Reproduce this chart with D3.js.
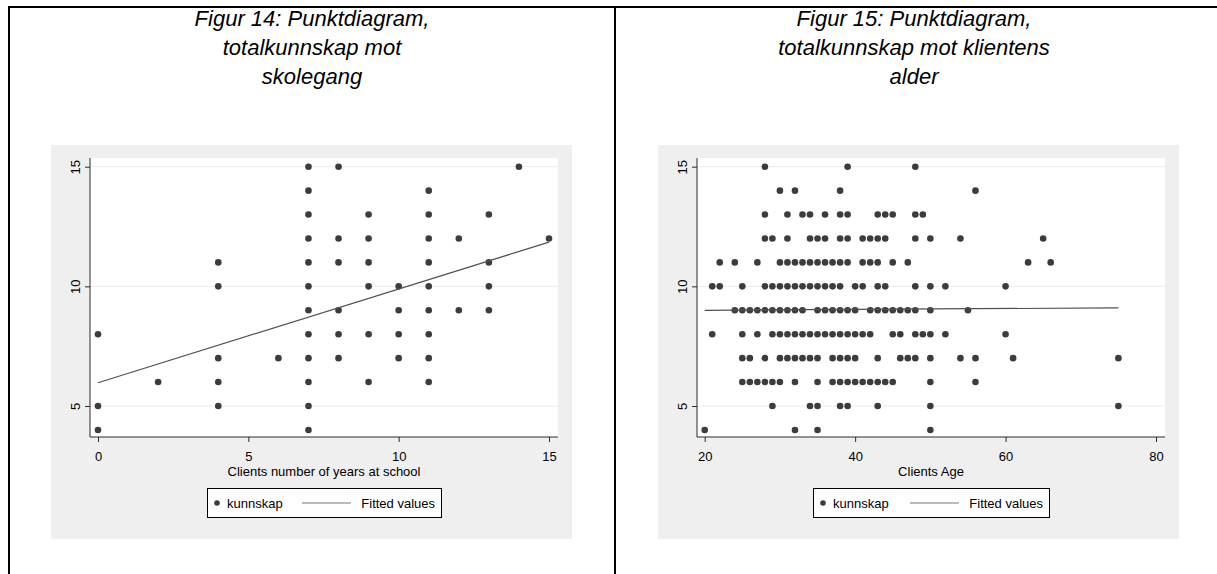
<!DOCTYPE html>
<html><head><meta charset="utf-8">
<script src="https://cdn.jsdelivr.net/npm/d3@7"></script>
<style>body{margin:0;background:#fff}svg{display:block}text{font-family:"Liberation Sans",Arial,sans-serif}</style>
</head><body>
<svg id="chart" width="1217" height="574"></svg>
<script>
// ---------- data ----------
const yTicks = [5, 10, 15];
const schoolTicks = [0, 5, 10, 15];
const ageTicks = [20, 40, 60, 80];

// Figure 14: years at school vs kunnskap
const schoolYears = [0,0,0, 2, 4,4,4,4,4, 6,
  7,7,7,7,7,7,7,7,7,7,7,7, 8,8,8,8,8,8, 9,9,9,9,9,9, 10,10,10,10,
  11,11,11,11,11,11,11,11,11, 12,12, 13,13,13,13, 14, 15];
const schoolScore = [8,5,4, 6, 11,10,7,6,5, 7,
  15,14,13,12,11,10,9,8,7,6,5,4, 15,12,11,9,8,7, 13,12,11,10,8,6, 10,9,8,7,
  14,13,12,11,10,9,8,7,6, 12,9, 13,11,10,9, 15, 12];
const schoolFitX = [0, 15];
const schoolFitY = [5.97, 11.85];

// Figure 15: client age vs kunnskap (one line per score level)
const ageYears = [
  28,39,48,
  30,32,38,56,
  28,31,33,34,36,38,39,43,44,45,48,49,
  28,29,31,34,35,36,38,39,41,42,43,44,48,50,54,65,
  22,24,27,30,31,32,33,34,35,36,37,38,39,41,42,43,45,47,63,66,
  21,22,25,28,29,30,31,32,33,34,35,36,37,38,40,41,43,44,48,50,52,60,
  24,25,26,27,28,29,30,31,32,33,35,36,37,38,39,40,42,43,44,45,46,47,48,50,55,
  21,25,27,29,30,31,32,33,34,35,36,37,38,39,40,41,42,45,46,48,49,50,52,60,
  25,26,28,30,31,32,33,34,35,37,38,39,40,43,46,47,48,50,54,56,61,75,
  25,26,27,28,29,30,32,35,37,38,39,40,41,42,43,44,45,50,56,
  29,34,35,38,39,43,50,75,
  20,32,35,50
];
const ageScore = [
  15,15,15,
  14,14,14,14,
  13,13,13,13,13,13,13,13,13,13,13,13,
  12,12,12,12,12,12,12,12,12,12,12,12,12,12,12,12,
  11,11,11,11,11,11,11,11,11,11,11,11,11,11,11,11,11,11,11,11,
  10,10,10,10,10,10,10,10,10,10,10,10,10,10,10,10,10,10,10,10,10,10,
  9,9,9,9,9,9,9,9,9,9,9,9,9,9,9,9,9,9,9,9,9,9,9,9,9,
  8,8,8,8,8,8,8,8,8,8,8,8,8,8,8,8,8,8,8,8,8,8,8,8,
  7,7,7,7,7,7,7,7,7,7,7,7,7,7,7,7,7,7,7,7,7,7,
  6,6,6,6,6,6,6,6,6,6,6,6,6,6,6,6,6,6,6,
  5,5,5,5,5,5,5,5,
  4,4,4,4
];
const ageFitX = [20, 75];
const ageFitY = [9.0, 9.1];

const titles14 = ["Figur 14: Punktdiagram,", "totalkunnskap mot", "skolegang"];
const titles15 = ["Figur 15: Punktdiagram,", "totalkunnskap mot klientens", "alder"];
const legendLabels = ["kunnskap", "Fitted values"];

// ---------- drawing ----------
const svg = d3.select("#chart");
const DOT = "#3c3c3c", FIT = "#505050", AX = "#2a2a2a";

// frame (document table lines)
svg.append("line").attr("x1", 8).attr("x2", 1217).attr("y1", 7).attr("y2", 7).attr("stroke", "#000").attr("stroke-width", 2);
svg.append("line").attr("x1", 9).attr("x2", 9).attr("y1", 6).attr("y2", 574).attr("stroke", "#000").attr("stroke-width", 2);
svg.append("line").attr("x1", 615).attr("x2", 615).attr("y1", 6).attr("y2", 574).attr("stroke", "#000").attr("stroke-width", 2);

function panel(off, titleCx, titles, xs, ys, fitX, fitY, xTicks, xDomain, xRange, xLabel, legW) {
  const g = svg.append("g").attr("transform", `translate(${off},0)`);
  // titles
  titles.forEach((t, i) => {
    svg.append("text").attr("x", titleCx).attr("y", 26 + i * 29)
      .attr("text-anchor", "middle").attr("font-size", 22).attr("font-style", "italic").attr("fill", "#000").text(t);
  });
  const plotL = 90, plotR = 558, plotT = 158, plotB = 437;
  // graph background
  g.append("rect").attr("x", 51).attr("y", 145).attr("width", 521).attr("height", 394).attr("fill", "#efefef");
  g.append("rect").attr("x", plotL).attr("y", plotT).attr("width", plotR - plotL).attr("height", plotB - plotT).attr("fill", "#fff");

  const x = d3.scaleLinear().domain(xDomain).range(xRange);
  const y = d3.scaleLinear().domain([5, 15]).range([406, 166.7]);

  // grid
  g.selectAll(".grid").data(yTicks).join("line")
    .attr("x1", plotL).attr("x2", plotR).attr("y1", d => y(d)).attr("y2", d => y(d))
    .attr("stroke", "#ececec").attr("stroke-width", 1);

  // points
  g.selectAll(".pt").data(xs.map((v, i) => [v, ys[i]])).join("circle")
    .attr("cx", d => x(d[0])).attr("cy", d => y(d[1])).attr("r", 3.3).attr("fill", DOT);

  // fitted line
  g.append("path").datum(fitX.map((v, i) => [v, fitY[i]]))
    .attr("d", d3.line().x(d => x(d[0])).y(d => y(d[1])))
    .attr("fill", "none").attr("stroke", FIT).attr("stroke-width", 1.2);

  // axes
  const yAxis = g.append("g").attr("transform", `translate(${plotL},0)`)
    .call(d3.axisLeft(y).tickValues(yTicks).tickSize(5).tickPadding(0).tickFormat(d3.format("d")));
  yAxis.select(".domain").attr("d", `M0,${plotT}V${plotB}`).attr("stroke", AX);
  yAxis.selectAll(".tick line").attr("stroke", AX);
  yAxis.selectAll(".tick text").attr("font-size", 13).attr("fill", "#000").attr("font-family", "Liberation Sans, Arial, sans-serif")
    .attr("text-anchor", "middle").attr("x", 0).attr("dy", 0)
    .attr("transform", "translate(-10.5,0) rotate(-90)");

  const xAxis = g.append("g").attr("transform", `translate(0,${plotB})`)
    .call(d3.axisBottom(x).tickValues(xTicks).tickSize(5).tickPadding(3).tickFormat(d3.format("d")));
  xAxis.select(".domain").attr("d", `M${plotL},0H${plotR}`).attr("stroke", AX);
  xAxis.selectAll(".tick line").attr("stroke", AX);
  xAxis.selectAll(".tick text").attr("font-size", 13).attr("fill", "#000").attr("font-family", "Liberation Sans, Arial, sans-serif")
    .attr("y", 0).attr("dy", 0).attr("transform", "translate(0,24)");

  g.append("text").attr("x", (plotL + plotR) / 2).attr("y", 476).attr("text-anchor", "middle")
    .attr("font-size", 13).attr("fill", "#000").text(xLabel);

  // legend
  const lx = (plotL + plotR) / 2 - legW / 2, ly = 488;
  const lg = g.append("g").attr("transform", `translate(${lx},${ly})`);
  lg.append("rect").attr("x", 0.5).attr("y", 0.5).attr("width", legW).attr("height", 29).attr("fill", "#fff").attr("stroke", "#000").attr("stroke-width", 1);
  lg.append("circle").attr("cx", 10).attr("cy", 15).attr("r", 2.8).attr("fill", DOT);
  lg.append("text").attr("x", 20).attr("y", 19.5).attr("font-size", 13).attr("fill", "#000").text(legendLabels[0]);
  lg.append("line").attr("x1", legW - 139).attr("x2", legW - 90).attr("y1", 15).attr("y2", 15).attr("stroke", "#777").attr("stroke-width", 1.2);
  lg.append("text").attr("x", legW - 6).attr("y", 19.5).attr("text-anchor", "end").attr("font-size", 13).attr("fill", "#000").text(legendLabels[1]);
}

panel(0, 312, titles14, schoolYears, schoolScore, schoolFitX, schoolFitY, schoolTicks, [0, 15], [98, 549],
  "Clients number of years at school", 234);
panel(607, 914, titles15, ageYears, ageScore, ageFitX, ageFitY, ageTicks, [20, 80], [97.7, 549],
  "Clients Age", 236);
</script>
</body></html>
